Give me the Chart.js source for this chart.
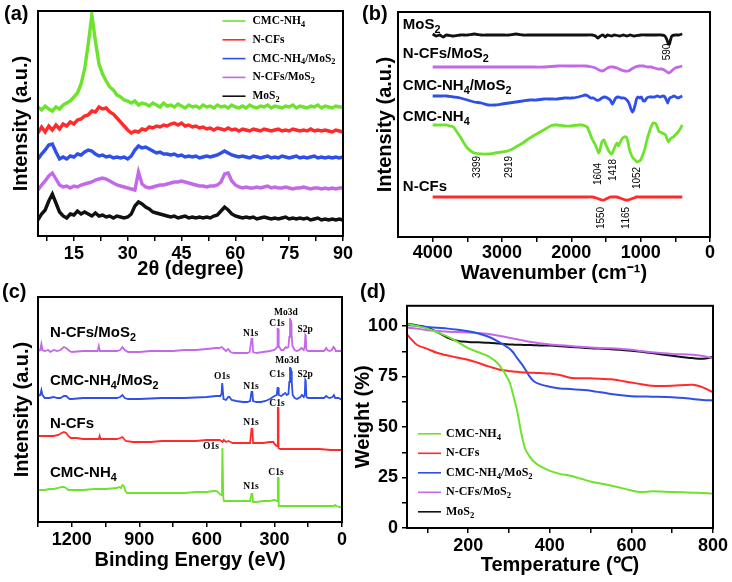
<!DOCTYPE html>
<html>
<head>
<meta charset="utf-8">
<script src="https://cdn.jsdelivr.net/npm/chart.js@4.4.0/dist/chart.umd.min.js"></script>
<style>
  body { margin: 0; background: #fff; width: 732px; height: 582px; position: relative; overflow: hidden; }
  canvas { position: absolute; }
  .tag { position: absolute; font: bold 20px 'Liberation Sans', Arial, sans-serif; line-height: 20px; color: #000; }
</style>
</head>
<body>
<canvas id="chartA" width="366" height="291" style="left:0;top:0"></canvas>
<canvas id="chartB" width="366" height="291" style="left:366px;top:0"></canvas>
<canvas id="chartC" width="366" height="291" style="left:0;top:291px"></canvas>
<canvas id="chartD" width="392" height="291" style="left:340px;top:291px"></canvas>
<div class="tag" style="left:4px;top:3px">(a)</div>
<div class="tag" style="left:362px;top:3px">(b)</div>
<div class="tag" style="left:2px;top:281px">(c)</div>
<div class="tag" style="left:360px;top:281px">(d)</div>
<script>
// ---- (a) XRD ----
const xrdAngle = [5,6,7,8,9,10,11,12,13,14,15,16,17,18,19,20,21,22,23,24,25,26,27,28,29,30,31,32,33,34,35,36,37,38,39,40,41,42,43,44,45,46,47,48,49,50,51,52,53,54,55,56,57,58,59,60,61,62,63,64,65,66,67,68,69,70,71,72,73,74,75,76,77,78,79,80,81,82,83,84,85,86,87,88,89,90];
const xrdCMC = [129,126,130,127,125,129,127,131,133,135, 139,143,152,167,192,221,195,172,162,155, 149,146,141,139,136,135,133,135,131,133, 132,130,133,131,129,133,130,131,129,132, 130,128,131,129,130,128,131,129,130,128, 131,129,130,128,131,129,128,130,128,131, 129,128,130,129,131,128,130,129,128,130, 129,131,128,130,129,128,130,129,131,128, 130,129,128,130,129,129];
const xrdNCF = [103,109,104,110,106,111,107,112,110,114, 112,116,117,120,121,125,124,129,127,128, 124,122,118,114,110,106,103,105,104,107, 106,109,108,110,109,111,110,112,113,111, 113,110,111,109,110,108,109,107,108,106, 108,107,106,108,106,107,105,107,106,105, 107,106,105,107,106,105,106,107,105,106, 105,107,106,105,106,105,107,105,106,105, 106,105,104,106,105,104];
const xrdCMCMoS2 = [77,82,86,91,92,84,77,79,77,80, 79,82,81,84,86,85,82,80,81,79, 80,78,79,78,79,77,80,86,90,88, 89,87,85,83,84,82,82,81,82,80, 81,79,80,79,80,78,79,80,79,80, 81,83,85,83,81,80,79,80,79,78, 80,79,78,79,80,78,79,78,80,79, 78,79,80,78,79,78,79,80,78,79, 78,79,78,79,78,79];
const xrdNCFMoS2 = [46,51,55,60,63,57,51,49,50,48, 50,49,51,52,53,54,56,57,58,57, 55,53,51,50,49,48,47,46,64,52, 49,48,49,50,51,51,52,53,54,54, 55,54,53,52,51,50,50,49,50,50, 51,54,62,63,55,51,49,48,49,48, 48,49,48,49,50,48,49,48,48,49, 48,47,48,48,49,48,47,48,48,47, 48,47,48,47,48,48];
const xrdMoS2 = [16,22,26,35,42,33,24,20,18,22, 21,25,22,24,22,20,23,20,21,19, 20,18,20,19,18,19,22,30,34,32, 29,27,24,23,22,21,20,19,20,18, 19,20,18,19,18,19,18,19,18,20, 21,25,29,26,22,20,19,18,19,18, 19,17,18,19,18,17,18,17,18,19, 17,18,17,18,17,18,16,17,18,16, 17,16,17,16,17,16];
const xrdMajor = [15, 30, 45, 60, 75, 90];
const xrdMinor = [7.5, 22.5, 37.5, 52.5, 67.5, 82.5];

// ---- (b) FTIR, [wavenumber, intensity] ----
const ftirMoS2 = [[4000,203],[3950,201],[3900,202],[3850,200],[3800,202],[3700,201],[3600,202],[3500,202],[3400,203],[3300,202],[3200,202],[3100,202],[3000,202],[2900,202],[2800,203],[2700,202],[2600,202],[2500,202],[2400,202],[2300,202],[2200,202],[2100,202],[2000,202],[1900,202],[1800,202],[1700,202],[1650,201],[1620,199],[1580,201],[1540,202],[1510,200],[1480,202],[1420,201],[1380,202],[1300,201],[1250,202],[1200,201],[1150,202],[1100,201],[1000,202],[900,202],[800,202],[700,202],[650,201],[620,197],[600,193],[585,193],[570,197],[550,201],[500,202],[450,202],[400,203]];
const ftirNCFMoS2 = [[4000,170],[3800,170],[3600,170],[3400,170],[3200,170],[3000,170],[2800,170],[2600,170],[2400,170],[2200,171],[2000,171],[1800,171],[1700,170],[1650,169],[1600,167],[1560,166],[1520,167],[1480,169],[1440,170],[1400,170],[1340,169],[1280,167],[1230,166],[1180,166],[1130,168],[1080,170],[1020,171],[960,171],[900,170],[850,170],[800,169],[750,168],[700,168],[660,167],[620,165],[595,164],[570,165],[540,167],[500,169],[450,170],[400,171]];
const ftirCMCMoS2 = [[4000,141],[3900,141],[3800,141],[3700,140],[3600,139],[3500,137],[3400,135],[3300,134],[3200,132],[3100,132],[3000,133],[2900,134],[2800,135],[2700,136],[2600,137],[2500,137],[2400,138],[2300,138],[2200,138],[2100,139],[2000,139],[1900,140],[1850,141],[1800,142],[1760,141],[1720,139],[1680,139],[1640,137],[1600,137],[1560,139],[1520,140],[1480,139],[1440,137],[1410,133],[1390,135],[1360,139],[1320,140],[1280,139],[1240,139],[1200,137],[1170,134],[1140,128],[1120,125],[1100,127],[1080,132],[1060,138],[1040,140],[1010,139],[990,140],[960,136],[940,136],[910,139],[880,140],[850,140],[800,140],[760,141],[720,140],[680,141],[650,140],[630,137],[610,134],[595,137],[580,139],[550,140],[520,141],[490,140],[460,139],[430,140],[400,141]];
const ftirCMC = [[4000,112],[3900,112],[3800,112],[3750,111],[3700,110],[3650,105],[3600,100],[3550,94],[3500,89],[3450,86],[3399,84],[3300,83],[3200,83],[3100,84],[3000,85],[2919,86],[2850,88],[2800,90],[2700,94],[2600,99],[2500,103],[2400,107],[2300,111],[2250,112],[2200,112],[2100,111],[2000,111],[1900,112],[1850,112],[1800,111],[1770,110],[1740,105],[1700,98],[1660,93],[1630,88],[1604,84],[1580,89],[1560,95],[1530,97],[1500,92],[1460,86],[1418,83],[1390,87],[1360,92],[1340,94],[1320,91],[1300,94],[1270,98],[1240,100],[1210,100],[1190,97],[1170,90],[1140,83],[1110,79],[1080,77],[1052,75],[1020,76],[1000,77],[970,82],[940,88],[910,97],[880,104],[850,110],[820,114],[800,114],[780,113],[760,110],[740,106],[720,105],[690,104],[660,103],[640,102],[620,98],[600,95],[580,97],[560,99],[530,100],[500,102],[460,105],[430,108],[400,112]];
const ftirNCF = [[4000,40],[3500,40],[3000,40],[2500,40],[2000,40],[1800,40],[1700,40],[1640,39],[1600,38],[1560,37],[1530,37],[1500,38],[1470,39],[1440,40],[1400,40],[1350,40],[1300,39],[1260,38],[1220,37],[1180,37],[1140,38],[1100,39],[1060,40],[1000,40],[900,40],[800,40],[600,40],[400,40]];
const ftirMajor = [0, 1000, 2000, 3000, 4000];
const ftirMinor = [500, 1500, 2500, 3500];
const ftirNames = [['MoS_2', 4430, 212], ['N-CFs/MoS_2', 4430, 183], ['CMC-NH_4/MoS_2', 4430, 151], ['CMC-NH_4', 4430, 120], ['N-CFs', 4430, 50]];
const ftirPeaks = [['590', 615, 185], ['3399', 3350, 70], ['2919', 2896, 70], ['1604', 1613, 63], ['1418', 1393, 67], ['1052', 1047, 59], ['1550', 1575, 19], ['1165', 1215, 19]];

// ---- (c) XPS, [binding energy, intensity] ----
const xpsNCFMoS2 = [[1350,171],[1340,172],[1335,178],[1330,172],[1320,171],[1305,172],[1295,170],[1280,172],[1265,171],[1250,172],[1235,175],[1225,174],[1210,171],[1200,170],[1150,171],[1100,171],[1085,171],[1080,176],[1075,171],[1050,171],[1000,171],[985,172],[975,175],[965,172],[950,170],[900,170],[850,171],[800,171],[750,171],[700,172],[650,172],[600,173],[560,174],[545,174],[533,175],[525,173],[515,171],[505,173],[495,170],[480,169],[460,169],[440,169],[420,169],[410,170],[402,183],[398,183],[395,170],[380,169],[350,170],[320,171],[300,172],[295,173],[288,175],[286,193],[283,193],[281,176],[270,172],[260,172],[250,175],[245,174],[238,175],[234,185],[231,204],[228,198],[226,199],[224,188],[220,176],[210,172],[200,171],[190,172],[180,174],[170,172],[165,176],[163,187],[161,186],[158,172],[150,171],[120,171],[100,171],[80,171],[70,174],[65,172],[55,171],[45,172],[38,175],[33,174],[28,171],[15,171],[5,171],[0,172]];
const xpsCMCMoS2 = [[1350,126],[1340,127],[1335,132],[1330,127],[1320,124],[1300,124],[1280,125],[1265,124],[1250,124],[1235,126],[1225,126],[1210,123],[1200,123],[1150,124],[1100,124],[1050,124],[1000,124],[985,125],[975,127],[965,124],[950,123],[900,123],[800,124],[700,124],[600,125],[560,126],[540,126],[535,128],[532,139],[529,139],[526,123],[515,122],[505,125],[500,125],[490,122],[470,121],[440,120],[420,120],[408,121],[402,130],[398,130],[395,121],[380,120],[360,120],[340,121],[320,123],[300,126],[290,127],[286,134],[283,134],[281,127],[270,126],[258,128],[252,129],[245,127],[238,128],[234,140],[231,155],[228,150],[226,151],[223,140],[219,127],[210,124],[200,123],[185,125],[178,127],[170,125],[165,128],[163,142],[161,141],[158,125],[150,124],[120,124],[100,124],[80,124],[70,126],[65,125],[55,124],[42,125],[36,127],[30,124],[15,124],[0,122]];
const xpsNCF = [[1350,86],[1320,86],[1300,86],[1280,86],[1260,87],[1245,89],[1235,90],[1225,89],[1215,86],[1205,84],[1180,84],[1150,83],[1100,83],[1080,83],[1076,86],[1072,83],[1050,83],[1000,83],[985,84],[975,85],[968,83],[960,81],[930,80],[900,80],[850,80],[800,81],[750,81],[700,81],[650,81],[600,82],[560,82],[545,82],[535,81],[530,80],[525,82],[515,80],[505,81],[495,80],[485,79],[470,79],[440,79],[420,79],[408,79],[402,93],[398,93],[395,79],[380,79],[350,79],[320,80],[305,80],[300,78],[295,77],[290,76],[287,76],[285,114],[283,114],[282,74],[275,73],[250,73],[200,73],[150,73],[100,73],[50,72],[0,72]];
const xpsCMC = [[1350,32],[1320,32],[1300,33],[1280,33],[1260,34],[1245,35],[1235,35],[1225,34],[1215,32],[1200,32],[1150,32],[1100,33],[1050,33],[1000,34],[990,35],[982,34],[975,37],[968,36],[962,31],[955,29],[930,29],[900,29],[850,29],[800,29],[750,29],[700,29],[650,30],[600,30],[570,31],[560,31],[550,30],[543,28],[536,27],[533,40],[531,74],[529,74],[527,24],[524,21],[500,21],[470,21],[440,21],[420,21],[408,21],[402,28],[398,28],[395,20],[380,20],[350,21],[320,21],[305,22],[298,22],[290,21],[286,21],[285,44],[283,44],[281,16],[270,16],[250,16],[200,16],[150,16],[100,16],[50,16],[35,16],[30,17],[25,16],[10,15],[0,15]];
const xpsMajor = [0, 300, 600, 900, 1200];
const xpsMinor = [150, 450, 750, 1050, 1350];
const xpsNames = [['N-CFs/MoS_2', 1297, 189], ['CMC-NH_4/MoS_2', 1297, 141], ['N-CFs', 1297, 98], ['CMC-NH_4', 1297, 49]];
const xpsPeaks = [['N1s', 406, 188], ['C1s', 289, 198], ['Mo3d', 249, 209], ['S2p', 164, 192], ['O1s', 533, 145], ['N1s', 404, 135], ['C1s', 289, 147], ['Mo3d', 244, 161], ['S2p', 164, 147], ['N1s', 404, 99], ['C1s', 289, 118], ['O1s', 582, 75], ['N1s', 404, 35], ['C1s', 293, 49]];

// ---- (d) TGA ----
const tgaTemp = [50,60,75,100,125,150,175,200,225,250,275,300,310,320,330,340,350,360,375,400,425,450,475,500,550,600,625,650,700,750,775,800];
const tgaCMC = [101.1,100.6,100,98.7,96.8,94.7,92,89,87,85, 81,72.8,66,58,47,39,35.6,33,30.7,28.3, 26.8,25.9,24.5,23,21,18.6,17.8,18.2,17.8,17.5, 17.3,17];
const tgaNCF = [95.8,93.5,90.6,88.7,86.6,85.4,84.3,83.3,81.7,80, 78.5,77.7,77.5,77.3,77.1,77,76.9,76.8,76.7,76.5, 75.7,74.4,74.1,74.1,73.6,72,71.2,70.4,70.4,70.9, 69.6,67.2];
const tgaCMCMoS2 = [100.6,100.4,100,99.5,99.1,98.7,98.1,97.4,96.3,94.7, 92.2,89,87,84.1,81.5,78.5,75.2,72.8,71.2,69.9, 69.1,68.8,68.4,68,66.3,65.2,65.1,65,64.7,63.9, 63.4,63.1];
const tgaNCFMoS2 = [99.2,99,98.7,97.9,97.5,97.1,97,96.8,96.5,96, 95.2,94.2,93.8,93.4,93,92.6,92.2,91.9,91.5,90.9, 90.5,90.1,89.7,89.3,89,88.2,87.6,87,86.2,85.8, 85.2,84.1];
const tgaMoS2 = [101.1,100.8,100.3,99.2,96.8,94.2,92.6,92.1,91.9,91.7, 91.3,90.9,90.8,90.7,90.7,90.6,90.6,90.5,90.4,90.3, 90,89.6,89.3,89,88.5,87.7,87.2,86.6,85.3,84.1, 83.8,84.6];
const tgaXMajor = [200, 400, 600, 800];
const tgaXMinor = [100, 300, 500, 700];
const tgaYMajor = [0, 25, 50, 75, 100];
const tgaYMinor = [12.5, 37.5, 62.5, 87.5];

const seriesNames = ['CMC-NH_4', 'N-CFs', 'CMC-NH_4/MoS_2', 'N-CFs/MoS_2', 'MoS_2'];

const GREEN = '#6ee32d', RED = '#ff2b2b', BLUE = '#2e50e8', VIOLET = '#c468ea', BLACK = '#111111';
const SANS = "'Liberation Sans', Arial, sans-serif";
const SERIF = "'Liberation Serif', 'Times New Roman', serif";

Chart.defaults.font.family = SANS;
Chart.defaults.color = '#000';
Chart.defaults.animation = false;

function pairs(xs, ys) {
  return ys.map((v, i) => ({ x: xs[i], y: v }));
}

// text with "_x" meaning subscript x
function drawRich(ctx, text, x, y, g) {
  const segs = [];
  for (let i = 0; i < text.length; i++) {
    if (text[i] === '_') { segs.push([text[i + 1], true]); i++; }
    else segs.push([text[i], false]);
  }
  const big = g.weight + ' ' + g.size + 'px ' + g.family;
  const small = g.weight + ' ' + (g.size * 0.72) + 'px ' + g.family;
  let w = 0;
  segs.forEach(s => { ctx.font = s[1] ? small : big; w += ctx.measureText(s[0]).width; });
  ctx.save();
  ctx.translate(x, y);
  if (g.rotate) ctx.rotate(-Math.PI / 2);
  let cx = g.align === 'center' ? -w / 2 : 0;
  ctx.textBaseline = 'middle';
  ctx.textAlign = 'left';
  ctx.fillStyle = '#000';
  segs.forEach(s => {
    ctx.font = s[1] ? small : big;
    ctx.fillText(s[0], cx, s[1] ? g.size * 0.32 : 0);
    cx += ctx.measureText(s[0]).width;
  });
  ctx.restore();
}

const frame = {
  id: 'frame',
  afterDraw(chart) {
    const { ctx, chartArea: a } = chart;
    ctx.save();
    ctx.strokeStyle = '#000';
    ctx.lineWidth = 2;
    ctx.strokeRect(a.left, a.top, a.right - a.left, a.bottom - a.top);
    ctx.restore();
  }
};

function notesPlugin(groups) {
  return {
    id: 'notes',
    afterDatasetsDraw(chart) {
      const { ctx, scales } = chart;
      groups.forEach(g => g.items.forEach(it => {
        drawRich(ctx, it[0], scales.x.getPixelForValue(it[1]), scales.y.getPixelForValue(it[2]), g);
      }));
    }
  };
}

function legendPlugin(cfg) {
  return {
    id: 'sideLegend',
    afterDatasetsDraw(chart) {
      const { ctx, chartArea: a } = chart;
      chart.data.datasets.forEach((ds, i) => {
        const y = a.top + cfg.top + i * cfg.step;
        const x = a.left + cfg.left;
        ctx.save();
        ctx.strokeStyle = ds.borderColor;
        ctx.lineWidth = 1.6;
        ctx.beginPath();
        ctx.moveTo(x, y);
        ctx.lineTo(x + cfg.len, y);
        ctx.stroke();
        ctx.restore();
        drawRich(ctx, ds.label, x + cfg.len + cfg.gap, y, cfg);
      });
    }
  };
}

function tickedAxis(o) {
  return {
    type: 'linear', min: o.min, max: o.max, reverse: !!o.reverse,
    afterBuildTicks: s => { s.ticks = o.major.concat(o.minor).sort((a, b) => a - b).map(v => ({ value: v })); },
    afterFit: s => { if (o.height !== undefined) s.height = o.height; if (o.width !== undefined) s.width = o.width; },
    ticks: {
      autoSkip: false, maxRotation: 0, padding: o.pad, color: '#000',
      font: { size: 18, weight: 'bold' },
      callback: v => o.major.includes(v) ? String(v) : ''
    },
    grid: { drawOnChartArea: false, tickLength: 5, color: '#000', lineWidth: 1.5 },
    border: { display: false },
    title: { display: true, text: o.title, color: '#000', font: { size: 20, weight: 'bold' }, padding: o.titlePad }
  };
}

function plainY(width, padTop) {
  return {
    type: 'linear', min: 0, max: 225,
    afterFit: s => { s.width = width; },
    ticks: { display: false },
    grid: { display: false },
    border: { display: false },
    title: { display: true, text: 'Intensity (a.u.)', color: '#000', font: { size: 20, weight: 'bold' }, padding: { top: padTop, bottom: 0 } }
  };
}

function lineSet(label, data, color, width, tension) {
  return { label, data, borderColor: color, borderWidth: width, pointRadius: 0, fill: false, tension: tension || 0 };
}

function baseOptions(padding, scales, extra) {
  return Object.assign({
    responsive: false, maintainAspectRatio: false, devicePixelRatio: 1,
    layout: { padding },
    plugins: { legend: { display: false }, tooltip: { enabled: false } },
    scales
  }, extra || {});
}

// (a)
new Chart(document.getElementById('chartA'), {
  type: 'line',
  data: {
    datasets: [
      lineSet(seriesNames[0], pairs(xrdAngle, xrdCMC), GREEN, 3.4),
      lineSet(seriesNames[1], pairs(xrdAngle, xrdNCF), RED, 3.4),
      lineSet(seriesNames[2], pairs(xrdAngle, xrdCMCMoS2), BLUE, 3.4),
      lineSet(seriesNames[3], pairs(xrdAngle, xrdNCFMoS2), VIOLET, 3.4),
      lineSet(seriesNames[4], pairs(xrdAngle, xrdMoS2), BLACK, 3.4)
    ]
  },
  options: baseOptions({ left: 0, top: 11, right: 23, bottom: 0 }, {
    x: tickedAxis({ min: 5, max: 90, major: xrdMajor, minor: xrdMinor, title: '2θ (degree)', height: 55, pad: 2, titlePad: { top: 0, bottom: 10 } }),
    y: plainY(38, 9)
  }),
  plugins: [frame, legendPlugin({ left: 184.5, top: 10, step: 18.8, len: 23, gap: 7, size: 11.5, weight: 'bold', family: SERIF })]
});

// (b)
new Chart(document.getElementById('chartB'), {
  type: 'line',
  data: {
    datasets: [
      lineSet('MoS2', ftirMoS2, BLACK, 2.8, 0.2),
      lineSet('N-CFs/MoS2', ftirNCFMoS2, VIOLET, 2.8, 0.2),
      lineSet('CMC-NH4/MoS2', ftirCMCMoS2, BLUE, 2.8, 0.2),
      lineSet('CMC-NH4', ftirCMC, GREEN, 2.8, 0.2),
      lineSet('N-CFs', ftirNCF, RED, 2.8, 0.2)
    ]
  },
  options: baseOptions({ left: 0, top: 12, right: 22, bottom: 0 }, {
    x: tickedAxis({ min: 0, max: 4500, reverse: true, major: ftirMajor, minor: ftirMinor, title: 'Wavenumber (cm⁻¹)', height: 54, pad: 0, titlePad: { top: 0, bottom: 6 } }),
    y: plainY(32, 7)
  }),
  plugins: [frame, notesPlugin([
    { items: ftirNames, size: 15, weight: 'bold', family: SANS, align: 'left' },
    { items: ftirPeaks, size: 10, weight: 'normal', family: SANS, align: 'center', rotate: true }
  ])]
});

// (c)
new Chart(document.getElementById('chartC'), {
  type: 'line',
  data: {
    datasets: [
      lineSet('N-CFs/MoS2', xpsNCFMoS2, VIOLET, 1.8),
      lineSet('CMC-NH4/MoS2', xpsCMCMoS2, BLUE, 1.8),
      lineSet('N-CFs', xpsNCF, RED, 1.8),
      lineSet('CMC-NH4', xpsCMC, GREEN, 1.8)
    ]
  },
  options: baseOptions({ left: 0, top: 6, right: 24, bottom: 0 }, {
    x: tickedAxis({ min: 0, max: 1350, reverse: true, major: xpsMajor, minor: xpsMinor, title: 'Binding Energy (eV)', height: 60, pad: 2, titlePad: { top: 0, bottom: 10 } }),
    y: plainY(38, 10)
  }),
  plugins: [frame, notesPlugin([
    { items: xpsNames, size: 15, weight: 'bold', family: SANS, align: 'left' },
    { items: xpsPeaks, size: 9.5, weight: 'bold', family: SERIF, align: 'center' }
  ])]
});

// (d)
new Chart(document.getElementById('chartD'), {
  type: 'line',
  data: {
    datasets: [
      lineSet(seriesNames[0], pairs(tgaTemp, tgaCMC), GREEN, 2, 0.3),
      lineSet(seriesNames[1], pairs(tgaTemp, tgaNCF), RED, 2, 0.3),
      lineSet(seriesNames[2], pairs(tgaTemp, tgaCMCMoS2), BLUE, 2, 0.3),
      lineSet(seriesNames[3], pairs(tgaTemp, tgaNCFMoS2), VIOLET, 2, 0.3),
      lineSet(seriesNames[4], pairs(tgaTemp, tgaMoS2), BLACK, 2, 0.3)
    ]
  },
  options: baseOptions({ left: 0, top: 9, right: 19, bottom: 0 }, {
    x: tickedAxis({ min: 50, max: 800, major: tgaXMajor, minor: tgaXMinor, title: 'Temperature (℃)', height: 54, pad: 2, titlePad: { top: 0, bottom: 5 } }),
    y: tickedAxis({ min: 0, max: 110, major: tgaYMajor, minor: tgaYMinor, title: 'Weight (%)', width: 67, pad: 4, titlePad: { top: 11, bottom: 0 } })
  }),
  plugins: [frame, legendPlugin({ left: 11, top: 128, step: 19.5, len: 23, gap: 5, size: 12, weight: 'bold', family: SERIF })]
});
</script>
</body>
</html>
